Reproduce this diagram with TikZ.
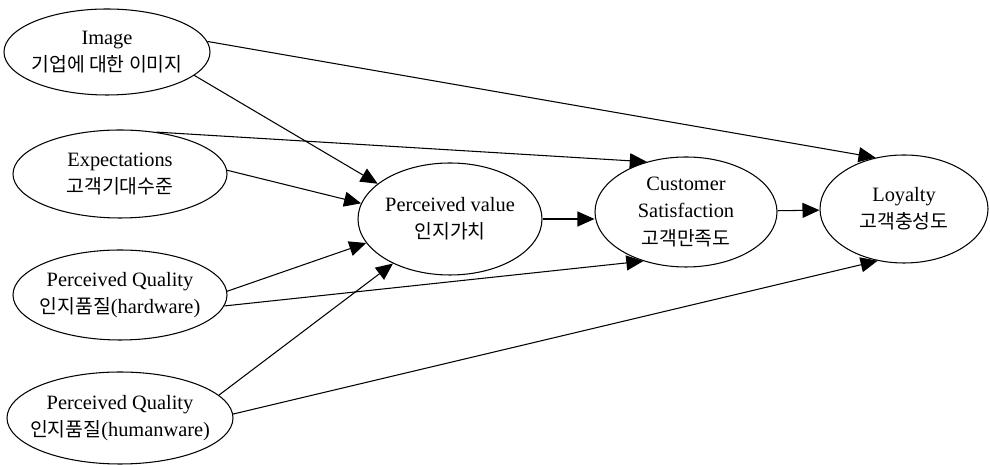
\documentclass[tikz,border=0pt]{standalone}
\usepackage{fontspec}
\setmainfont{Liberation Serif}
\newfontfamily\kr[Scale=0.95]{Noto Sans CJK KR}
\usetikzlibrary{shapes.geometric,arrows.meta}

\begin{document}
\begin{tikzpicture}[font=\fontsize{11.6}{15.5}\selectfont,
    oval/.style={ellipse, draw, line width=0.6pt, inner xsep=-6mm, inner ysep=-3mm, align=center},
    >={Triangle[length=3.4mm,width=3mm]}, line width=0.6pt]
%
         \useasboundingbox (0,0) rectangle (19.8,9.3);

         \node [oval, minimum width=4.12cm, minimum height=1.72cm] (I) at (2.14,8.26) {Image\\{\kr 기업에 대한 이미지}};
  		 \node [oval, minimum width=4.28cm, minimum height=1.76cm] (E) at (2.40,5.82) {Expectations\\{\kr 고객기대수준}};
  		 \node [oval, minimum width=4.28cm, minimum height=1.80cm] (H) at (2.40,3.40) {Perceived Quality\\{\kr 인지품질}(hardware)};
  		 \node [oval, minimum width=4.52cm, minimum height=1.84cm] (W) at (2.40,0.94) {Perceived Quality\\{\kr 인지품질}(humanware)};
  		 \node [oval, minimum width=3.68cm, minimum height=2.24cm] (V) at (9.00,4.92) {Perceived value\\{\kr 인지가치}};
  		 \node [oval, minimum width=3.64cm, minimum height=2.20cm] (S) at (13.72,5.06) {Customer\\Satisfaction\\{\kr 고객만족도}};
  		 \node [oval, minimum width=3.36cm, minimum height=2.16cm] (L) at (18.08,5.12) {Loyalty\\{\kr 고객충성도}};

  		 \draw [->] (I.6) -- (L.119);
  		 \draw [->] (I.-15) -- (V.154);
  		 \draw [->] (E.49) -- (S.128);
  		 \draw [->] (E.2) -- (V.170);
  		 \draw [->] (H.2) -- (V.196);
  		 \draw [->] (H.-6) -- (S.229);
  		 \draw [->] (W.13) -- (V.218);
  		 \draw [->] (W.2) -- (L.243);
  		 \draw [->] (V.east) -- (V.east -| S.west);
  		 \draw [->] (S) -- (L);

        \end{tikzpicture}
\end{document}
